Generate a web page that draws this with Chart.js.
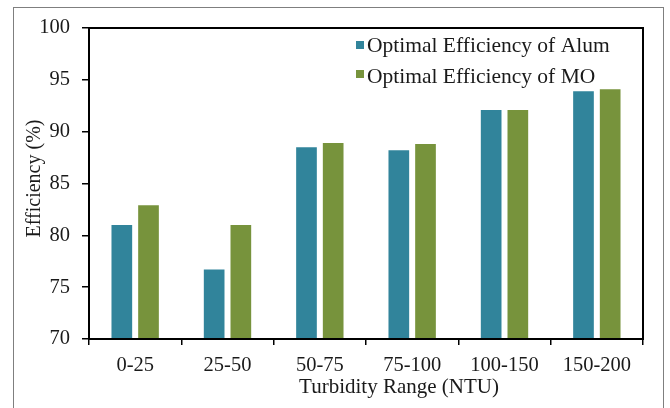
<!DOCTYPE html>
<html>
<head>
<meta charset="utf-8">
<title>Efficiency by Turbidity Range</title>
<script src="https://cdn.jsdelivr.net/npm/chart.js@4"></script>
<style>
  html, body { margin: 0; padding: 0; background: #ffffff; }
  #wrap { width: 670px; height: 408px; position: relative; }
</style>
</head>
<body>
<div id="wrap"><canvas id="chart" width="670" height="408"></canvas></div>
<script>
// Turbidity ranges (NTU) and optimal removal efficiency (%) per coagulant
const categories = ['0-25', '25-50', '50-75', '75-100', '100-150', '150-200'];
const alumEfficiency = [81.0, 76.7, 88.5, 88.2, 92.1, 93.9];
const moEfficiency = [82.9, 81.0, 88.9, 88.8, 92.1, 94.1];
const yTicks = [70, 75, 80, 85, 90, 95, 100];

const xTitle = 'Turbidity Range (NTU)';
const yTitle = 'Efficiency (%)';

const SERIF = '"Liberation Serif", "Times New Roman", serif';
const TEXT = '#1a1a1a';
const TEAL = '#31849B';
const GREEN = '#77933C';

// Light outer frame around the whole figure
const outerFrame = {
  id: 'outerFrame',
  beforeDraw(chart) {
    const ctx = chart.ctx;
    ctx.save();
    ctx.strokeStyle = '#7f7f7f';
    ctx.lineWidth = 1;
    ctx.strokeRect(13.5, 7.5, 650, chart.height + 20);
    ctx.restore();
  }
};

// Box around the plotting area (top and right edges complete the axes)
const plotBox = {
  id: 'plotBox',
  afterDatasetsDraw(chart) {
    const a = chart.chartArea;
    const ctx = chart.ctx;
    ctx.save();
    ctx.strokeStyle = '#000000';
    ctx.lineWidth = 2;
    ctx.strokeRect(a.left, a.top, a.right - a.left, a.bottom - a.top);
    ctx.restore();
  }
};

// Axis titles, placed relative to the plotting area
const axisTitles = {
  id: 'axisTitles',
  afterDraw(chart) {
    const a = chart.chartArea;
    const ctx = chart.ctx;
    ctx.save();
    ctx.fillStyle = TEXT;
    ctx.textAlign = 'center';
    ctx.textBaseline = 'alphabetic';
    ctx.font = '21px ' + SERIF;
    ctx.fillText(xTitle, (a.left + a.right) / 2 + 33, a.bottom + 54);
    ctx.translate(a.left - 49, (a.top + a.bottom) / 2 - 5);
    ctx.rotate(-Math.PI / 2);
    ctx.font = '20px ' + SERIF;
    ctx.fillText(yTitle, 0, 0);
    ctx.restore();
  }
};

// Legend drawn inside the plot, upper right
const insideLegend = {
  id: 'insideLegend',
  afterDraw(chart) {
    const ctx = chart.ctx;
    const a = chart.chartArea;
    const x0 = a.left + 267;
    const rows = [{ sq: a.top + 17, base: a.top + 24 }, { sq: a.top + 46, base: a.top + 55 }];
    ctx.save();
    ctx.font = '21.5px ' + SERIF;
    ctx.textBaseline = 'alphabetic';
    ctx.textAlign = 'left';
    chart.data.datasets.forEach((ds, i) => {
      const r = rows[i];
      ctx.fillStyle = ds.backgroundColor;
      ctx.fillRect(x0, r.sq - 4, 8, 8);
      ctx.fillStyle = TEXT;
      ctx.fillText(ds.label, x0 + 11, r.base);
    });
    ctx.restore();
  }
};

new Chart(document.getElementById('chart'), {
  type: 'bar',
  data: {
    labels: categories,
    datasets: [
      {
        label: 'Optimal Efficiency of Alum',
        data: alumEfficiency,
        backgroundColor: TEAL,
        categoryPercentage: 0.578,
        barPercentage: 0.775
      },
      {
        label: 'Optimal Efficiency of MO',
        data: moEfficiency,
        backgroundColor: GREEN,
        categoryPercentage: 0.578,
        barPercentage: 0.775
      }
    ]
  },
  options: {
    responsive: false,
    animation: false,
    devicePixelRatio: 1,
    layout: { padding: { top: 28, right: 27, bottom: 0, left: 0 } },
    plugins: {
      legend: { display: false },
      tooltip: { enabled: false }
    },
    scales: {
      x: {
        afterFit(scale) { scale.height = 69; },
        grid: {
          display: true,
          drawOnChartArea: false,
          drawTicks: true,
          tickLength: 6,
          color: '#000000',
          lineWidth: 1.5,
          offset: true
        },
        border: { display: true, color: '#000000', width: 2 },
        ticks: {
          color: TEXT,
          padding: 8,
          font: { family: SERIF, size: 20.5 }
        },
        title: { display: false }
      },
      y: {
        min: 70,
        max: 100,
        afterFit(scale) { scale.width = 89; },
        afterBuildTicks(scale) { scale.ticks = yTicks.map(v => ({ value: v })); },
        grid: {
          display: true,
          drawOnChartArea: false,
          drawTicks: true,
          tickLength: 7,
          color: '#000000',
          lineWidth: 1.5
        },
        border: { display: true, color: '#000000', width: 2 },
        ticks: {
          color: TEXT,
          padding: 12,
          font: { family: SERIF, size: 20.5 }
        },
        title: { display: false }
      }
    }
  },
  plugins: [outerFrame, plotBox, axisTitles, insideLegend]
});
</script>
</body>
</html>
